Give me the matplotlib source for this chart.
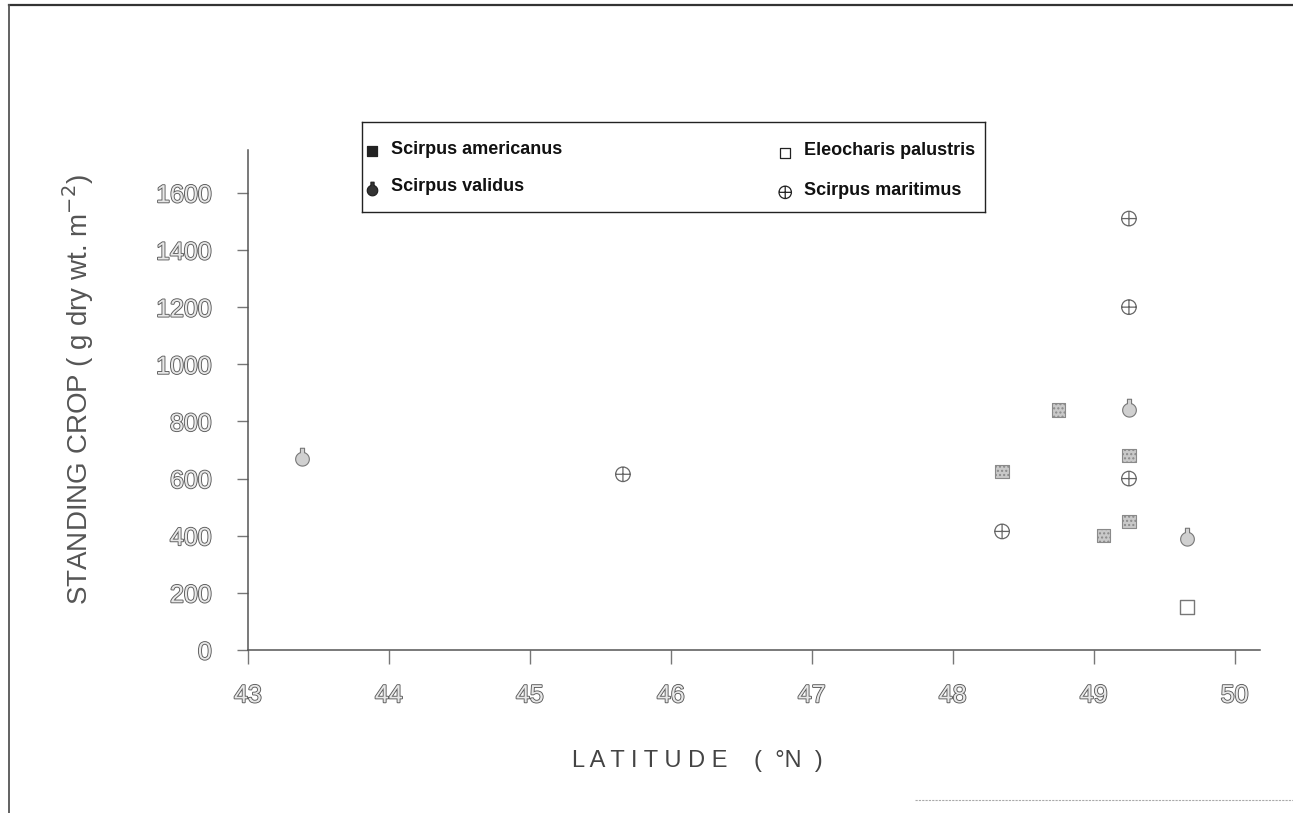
import numpy as np
import matplotlib
matplotlib.use("Agg")
import matplotlib.pyplot as plt
from matplotlib.path import Path
from matplotlib.lines import Line2D
import matplotlib.patheffects as pe

plt.rcParams["font.family"] = ["Liberation Sans", "DejaVu Sans"]

# Standing crop vs latitude, four marsh species
americanus_lat = [48.35, 48.75, 49.07, 49.25, 49.25]
americanus_crop = [625, 840, 400, 450, 680]

eleocharis_lat = [49.66]
eleocharis_crop = [150]

validus_lat = [43.38, 49.25, 49.66]
validus_crop = [680, 850, 400]

maritimus_lat = [45.66, 48.35, 49.25, 49.25, 49.25]
maritimus_crop = [615, 415, 600, 1200, 1510]

x_ticks = [43, 44, 45, 46, 47, 48, 49, 50]
y_ticks = [0, 200, 400, 600, 800, 1000, 1200, 1400, 1600]


def circle_plus():
    circ = Path.unit_circle()
    cross = Path([(-1, 0), (1, 0), (0, -1), (0, 1)],
                 [Path.MOVETO, Path.LINETO, Path.MOVETO, Path.LINETO])
    return Path.make_compound_path(circ, cross)


def flask():
    # round body with a short neck on top
    t = np.linspace(np.pi / 2 + 0.35, np.pi / 2 - 0.35 + 2 * np.pi, 40)
    body = [(np.cos(a), np.sin(a) - 0.4) for a in t]
    top = body[-1][1]
    verts = body + [(0.3, top), (0.3, 1.2), (-0.3, 1.2), (-0.3, top), body[0]]
    codes = [Path.MOVETO] + [Path.LINETO] * (len(verts) - 2) + [Path.CLOSEPOLY]
    return Path(verts, codes)


PLUS = circle_plus()
FLASK = flask()

fig = plt.figure(figsize=(12.93, 8.13), dpi=100)
ax = fig.add_axes([0.1918, 0.2005, 0.7827, 0.615])

ax.scatter(americanus_lat, americanus_crop, marker="s", s=95,
           facecolor="#c9c9c9", edgecolor="#8a8a8a", linewidth=0.8, hatch="....")
ax.scatter(eleocharis_lat, eleocharis_crop, marker="s", s=90,
           facecolor="white", edgecolor="#777777", linewidth=1.0)
ax.scatter(validus_lat, validus_crop, marker=FLASK, s=190,
           facecolor="#d0d0d0", edgecolor="#777777", linewidth=0.8)
ax.scatter(maritimus_lat, maritimus_crop, marker=PLUS, s=110,
           facecolor="none", edgecolor="#666666", linewidth=0.9)

ax.set_xlim(43, 50.18)
ax.set_ylim(0, 1750)
ax.set_xticks(x_ticks)
ax.set_yticks(y_ticks)
for s in ["top", "right"]:
    ax.spines[s].set_visible(False)
for s in ["left", "bottom"]:
    ax.spines[s].set_color("#555555")
    ax.spines[s].set_linewidth(1.1)

ax.tick_params(axis="y", direction="out", length=8, width=1, color="#777777", pad=18)
ax.tick_params(axis="x", direction="out", length=10, width=1, color="#777777", pad=14)
outline = [pe.withStroke(linewidth=1.3, foreground="#5a5a5a")]
for lab in ax.get_xticklabels() + ax.get_yticklabels():
    lab.set_fontsize(18)
    lab.set_color("#e8e8e8")
    lab.set_path_effects(outline)

ax.set_ylabel("STANDING CROP ( g dry wt. m$^{-2}$)", fontsize=20, color="#555555")
ax.yaxis.set_label_coords(-0.150, 0.52)
ax.set_xlabel("L A T I T U D E    (  °N  )", fontsize=17, color="#444444")
ax.xaxis.set_label_coords(0.444, -0.2)

# key box
lg = fig.add_axes([0.280, 0.739, 0.482, 0.111])
lg.set_xlim(0, 1)
lg.set_ylim(0, 1)
lg.set_xticks([])
lg.set_yticks([])
for s in lg.spines.values():
    s.set_color("#222222")
    s.set_linewidth(1.0)

keys = [
    ("Scirpus americanus", "s", 0.016, 0.68, dict(s=45, facecolor="#222222", edgecolor="#222222")),
    ("Eleocharis palustris", "s", 0.679, 0.66, dict(s=50, facecolor="white", edgecolor="#222222")),
    ("Scirpus validus", FLASK, 0.016, 0.27, dict(s=110, facecolor="#333333", edgecolor="#222222")),
    ("Scirpus maritimus", PLUS, 0.679, 0.22, dict(s=80, facecolor="none", edgecolor="#222222")),
]
for label, mk, kx, ky, style in keys:
    lg.scatter([kx], [ky], marker=mk, linewidth=0.9, **style)
    lg.text(kx + 0.03, ky + 0.02, label, fontsize=13, fontweight="bold",
            color="#111111", va="center", ha="left")

# page frame from the scanned sheet
fig.add_artist(Line2D([0.007, 1.0], [0.994, 0.994], transform=fig.transFigure,
                      color="#333333", linewidth=1.6))
fig.add_artist(Line2D([0.007, 0.007], [0.0, 0.994], transform=fig.transFigure,
                      color="#555555", linewidth=1.3))
fig.add_artist(Line2D([0.708, 1.0], [0.016, 0.016], transform=fig.transFigure,
                      color="#aaaaaa", linewidth=0.8, linestyle=(0, (2, 1))))

fig.savefig("out.png", dpi=100)
